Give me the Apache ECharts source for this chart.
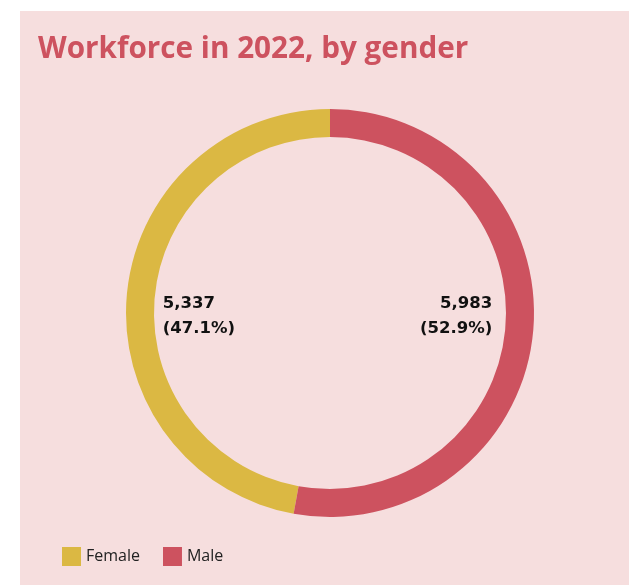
<!DOCTYPE html>
<html>
<head>
<meta charset="utf-8">
<script src="https://cdn.jsdelivr.net/npm/echarts@6/dist/echarts.min.js"></script>
<style>
  html, body { margin: 0; padding: 0; background: #ffffff; }
  #panel { position: absolute; left: 20px; top: 11px; width: 609px; height: 574px; background: #f6dede; }
  #chart { width: 609px; height: 574px; }
</style>
</head>
<body>
<div id="panel"><div id="chart"></div></div>
<script>
// Workforce headcount by gender, 2022
const categories = ['Female', 'Male'];
const headcount = [5337, 5983];
const shares = [47.1, 52.9];
const colors = ['#dbb843', '#cd525f'];

// Value labels sit inside the ring: Female block left-aligned, Male block right-aligned
const labelPlacement = [
  { style: 'l', offset: [65, 20] },
  { style: 'r', offset: [-70, -14] }
];

const chart = echarts.init(document.getElementById('chart'), null, { renderer: 'canvas' });

const labelFont = {
  fontFamily: 'DejaVu Sans',
  fontWeight: 'bold',
  fontSize: 16.5,
  lineHeight: 25,
  color: '#111111',
  width: 80
};

const data = categories.map((name, i) => ({
  name: name,
  value: headcount[i],
  itemStyle: { color: colors[i] },
  label: {
    offset: labelPlacement[i].offset,
    formatter: () => {
      const s = labelPlacement[i].style;
      return '{' + s + '|' + headcount[i].toLocaleString('en-US') + '}\n{' + s + '|(' + shares[i].toFixed(1) + '%)}';
    }
  }
}));

chart.setOption({
  animation: false,
  backgroundColor: 'transparent',
  title: {
    text: 'Workforce in 2022, by gender',
    left: 13,
    top: 19,
    textStyle: {
      fontFamily: 'Open Sans',
      fontWeight: 'bold',
      fontSize: 29.7,
      color: '#cd525f'
    }
  },
  legend: {
    data: categories,
    left: 42,
    top: 536,
    padding: 0,
    itemWidth: 19,
    itemHeight: 19,
    itemGap: 23,
    icon: 'rect',
    textStyle: { fontFamily: 'Open Sans', fontSize: 16, color: '#222222' }
  },
  series: [{
    type: 'pie',
    center: [310, 302],
    radius: [176, 204],
    startAngle: 90,
    clockwise: false,
    data: data,
    label: {
      show: true,
      position: 'inside',
      rotate: 0,
      rich: {
        l: Object.assign({ align: 'left' }, labelFont),
        r: Object.assign({ align: 'right' }, labelFont)
      }
    },
    labelLine: { show: false },
    emphasis: { disabled: true }
  }]
});
</script>
</body>
</html>
